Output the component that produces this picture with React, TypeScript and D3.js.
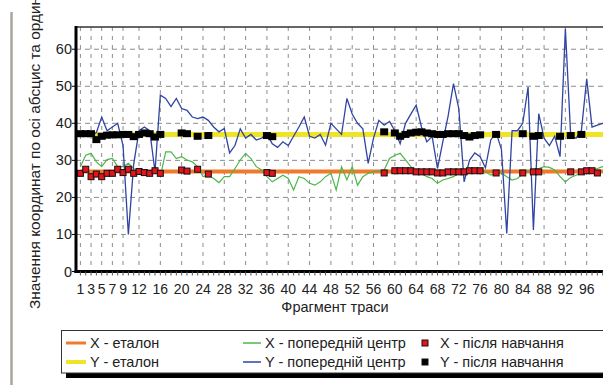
import React from "react";
import * as d3 from "d3";

// trace fragments 1..100
const categories = d3.range(1, 101);
const xTickLabels = [1, 3, 5, 7, 9, 12, 16, 20, 24, 28, 32, 36, 40, 44, 48, 52, 56, 60, 64, 68, 72, 76, 80, 84, 88, 92, 96];
const yTicks = [0, 10, 20, 30, 40, 50, 60];

const xEtalon = 27;
const yEtalon = 37;

const xPrevCenter = [
  28.3, 31.4, 31.9, 29.6, 28.3, 30.2, 30.5, 28.3, 28.3, 29.2,
  27.8, 26.9, 26.0, 26.9, 27.8, 25.6, 32.3, 32.3, 30.5, 31.0,
  30.1, 29.6, 28.3, 25.6, 26.0, 25.1, 24.0, 25.6, 25.6, 27.8,
  30.1, 31.9, 30.5, 28.3, 27.4, 25.6, 24.2, 25.1, 26.0, 25.1,
  22.0, 25.6, 25.1, 23.8, 23.3, 24.2, 25.6, 26.5, 22.0, 28.3,
  24.7, 28.3, 23.3, 25.6, 26.5, 26.9, 27.2, 27.4, 30.5, 31.4,
  31.9, 30.1, 28.3, 26.9, 26.5, 25.6, 25.1, 23.8, 24.7, 25.1,
  25.6, 26.5, 26.9, 27.4, 27.5, 27.8, 26.9, 26.0, 26.5, 26.6,
  25.6, 24.7, 25.1, 26.3, 27.2, 27.5, 27.8, 28.3, 28.1, 27.4,
  25.6, 24.2, 25.4, 26.0, 26.6, 27.2, 27.4, 27.8, 28.3, 28.4,
];

const yPrevCenter = [
  37.5, 37.0, 36.5, 37.5, 41.7, 38.0, 39.0, 40.0, 34.0, 10.0,
  29.0, 38.0, 39.0, 38.0, 27.0, 47.6, 46.7, 44.5, 46.7, 44.0,
  43.5, 41.7, 41.3, 41.7, 40.8, 39.0, 37.7, 38.6, 32.0, 34.0,
  38.5, 36.0, 37.0, 35.5, 36.0, 37.0, 34.5, 33.5, 35.0, 34.0,
  36.5, 39.0, 41.7, 36.5, 36.0, 37.0, 34.1, 40.0, 38.5, 37.0,
  46.7, 42.5, 40.0, 38.5, 29.2, 36.0, 40.8, 39.5, 40.5, 38.0,
  34.5, 40.0, 42.5, 44.9, 39.0, 35.0, 36.5, 27.8, 35.0, 42.0,
  50.7, 44.0, 24.2, 30.0, 32.0, 31.0, 28.0, 35.5, 37.5, 33.0,
  10.3, 38.0, 38.0, 40.0, 49.8, 11.2, 42.6, 36.0, 34.0, 36.5,
  31.0, 65.5, 36.5, 36.0, 38.0, 52.0, 39.0, 39.5, 40.0, 40.0,
];

const xAfterCats = [
  1, 2, 3, 4, 5, 6, 7, 8, 9, 10, 11, 12, 13, 14, 15, 16, 20, 21, 23, 25, 36, 37,
  58, 60, 61, 62, 63, 64, 65, 66, 67, 68, 69, 70, 71, 72, 73, 74, 75, 76,
  79, 84, 86, 87, 93, 95, 96, 97, 98,
];
const xAfterVals = [
  26.5, 27.6, 25.6, 26.3, 25.6, 26.5, 26.5, 27.6, 26.7, 27.6, 26.5, 27.0, 26.7, 26.5, 27.2, 26.5,
  27.4, 27.1, 27.6, 26.3, 26.7, 26.5,
  26.6, 27.2, 27.2, 27.2, 27.2, 26.9, 26.9, 26.9, 26.9, 26.6, 26.6, 26.9, 26.9, 26.9, 26.9, 27.2, 27.2, 27.2,
  26.6, 26.6, 26.9, 26.9, 26.9, 26.9, 27.2, 27.2, 26.6,
];

const yAfterCats = [
  1, 2, 3, 4, 5, 6, 7, 8, 9, 10, 11, 12, 13, 14, 15, 16, 20, 21, 23, 25, 36, 37,
  58, 60, 61, 62, 63, 64, 65, 66, 67, 68, 69, 70, 71, 72, 73, 74, 75, 76,
  79, 84, 86, 87, 91, 93, 95,
];
const yAfterVals = [
  37.2, 37.2, 37.2, 35.6, 36.5, 36.8, 36.9, 36.9, 37.0, 37.0, 36.4, 37.0, 37.4, 37.2, 36.3, 37.0,
  37.4, 37.2, 36.5, 36.7, 36.7, 36.4,
  37.7, 37.4, 36.5, 37.0, 37.4, 37.6, 37.7, 37.4, 37.2, 37.0, 37.0, 37.2, 37.2, 37.2, 36.7, 36.3, 36.7, 36.9,
  37.0, 37.2, 36.5, 36.7, 36.5, 36.7, 37.0,
];

const legendRows = [
  ["X - еталон", "X - попередній центр", "X - після навчання"],
  ["Y - еталон", "Y - попередній центр", "Y - після навчання"],
];

const COLORS = {
  xEt: "#f07a2c",
  yEt: "#efe426",
  green: "#4cb748",
  blue: "#2f44a3",
  red: "#e3141c",
};

const FONT = "'Liberation Sans', Arial, sans-serif";

export default function App() {
  const W = 603;
  const H = 385;
  const left = 76;
  const top = 27;
  const bottom = 271.5;

  const x = d3.scaleLinear().domain([1, 96]).range([80.4, 586.7]);
  const y = d3.scaleLinear().domain([0, 66]).range([bottom, top]);
  const right = x(100.5);

  const line = d3
    .line<number>()
    .x((_, i) => x(categories[i]))
    .y((d) => y(d));

  const flat = (v: number) =>
    d3.line<number>().x((c) => x(c)).y(() => y(v))([categories[0], categories[categories.length - 1]]) || "";

  const legendCols = [66, 243, 425];

  return (
    <svg
      width={W}
      height={H}
      style={{ position: "absolute", left: 0, top: 0, background: "#fff" }}
      fontFamily={FONT}
    >
      <rect width={W} height={H} fill="#fff" />
      {/* left gray bar */}
      <line x1={11.5} x2={11.5} y1={12} y2={H} stroke="#aaa49c" strokeWidth={2.5} />

      {/* grid */}
      {yTicks.filter((t) => t > 0).map((t) => (
        <line key={"gy" + t} x1={left} x2={right} y1={y(t)} y2={y(t)} stroke="#8c8c8c" strokeDasharray="5,4" />
      ))}
      {xTickLabels.map((t) => (
        <line key={"gx" + t} x1={x(t)} x2={x(t)} y1={top} y2={bottom} stroke="#8c8c8c" strokeDasharray="4,5" />
      ))}

      {/* etalon lines */}
      <path d={flat(xEtalon)} stroke={COLORS.xEt} strokeWidth={4} fill="none" />
      <path d={flat(yEtalon)} stroke={COLORS.yEt} strokeWidth={5} fill="none" />

      {/* previous centers */}
      <path d={line(xPrevCenter) || ""} stroke={COLORS.green} strokeWidth={1.2} fill="none" />
      <path d={line(yPrevCenter) || ""} stroke={COLORS.blue} strokeWidth={1.3} fill="none" />

      {/* after training */}
      {xAfterCats.map((c, i) => (
        <rect
          key={"xa" + c}
          x={x(c) - 3}
          y={y(xAfterVals[i]) - 3}
          width={6}
          height={6}
          fill={COLORS.red}
          stroke="#111"
          strokeWidth={1}
        />
      ))}
      {yAfterCats.map((c, i) => (
        <rect key={"ya" + c} x={x(c) - 4} y={y(yAfterVals[i]) - 3.5} width={8} height={7} fill="#000" />
      ))}

      {/* frame and axes */}
      <line x1={left} x2={W} y1={top} y2={top} stroke="#333" strokeWidth={1.5} />
      <line x1={left} x2={left} y1={top - 1} y2={bottom + 1.5} stroke="#000" strokeWidth={3} />
      <line x1={left - 1.5} x2={right} y1={bottom} y2={bottom} stroke="#000" strokeWidth={3} />

      {categories.map((c) => (
        <line key={"mt" + c} x1={x(c)} x2={x(c)} y1={bottom} y2={bottom + 4} stroke="#555" strokeWidth={1} />
      ))}
      {xTickLabels.map((t) => (
        <text key={"xl" + t} x={x(t)} y={294} textAnchor="middle" fontSize={14} fill="#222">
          {t}
        </text>
      ))}
      {yTicks.map((t) => (
        <g key={"yl" + t}>
          <line x1={left - 4} x2={left} y1={y(t)} y2={y(t)} stroke="#000" />
          <text x={72} y={y(t) + 5} textAnchor="end" fontSize={14.5} fill="#222">
            {t}
          </text>
        </g>
      ))}

      <text x={335} y={312} textAnchor="middle" fontSize={14.5} fill="#222">
        Фрагмент траси
      </text>
      <text transform="translate(40,309) rotate(-90)" fontSize={15.4} fill="#222">
        Значення координат по осі абсцис та ординат
      </text>

      {/* legend */}
      <rect x={66} y={373} width={W} height={5} fill="#000" />
      <rect x={61.5} y={330.5} width={W} height={42.5} fill="#fff" stroke="#333" strokeWidth={1} />
      {legendRows.map((row, r) => {
        const cy = 343 + r * 19;
        return (
          <g key={"lr" + r}>
            <line
              x1={legendCols[0]}
              x2={legendCols[0] + 20}
              y1={cy}
              y2={cy}
              stroke={r === 0 ? COLORS.xEt : COLORS.yEt}
              strokeWidth={r === 0 ? 3 : 4}
            />
            <text x={legendCols[0] + 24} y={cy + 5} fontSize={14.5} fill="#222">
              {row[0]}
            </text>
            <line
              x1={legendCols[1]}
              x2={legendCols[1] + 18}
              y1={cy}
              y2={cy}
              stroke={r === 0 ? COLORS.green : COLORS.blue}
              strokeWidth={1.5}
            />
            <text x={legendCols[1] + 22} y={cy + 5} fontSize={14.5} fill="#222">
              {row[1]}
            </text>
            <rect
              x={legendCols[2] - 3}
              y={cy - 3}
              width={6}
              height={6}
              fill={r === 0 ? COLORS.red : "#000"}
              stroke="#111"
            />
            <text x={legendCols[2] + 15} y={cy + 5} fontSize={14.5} fill="#222">
              {row[2]}
            </text>
          </g>
        );
      })}
    </svg>
  );
}
